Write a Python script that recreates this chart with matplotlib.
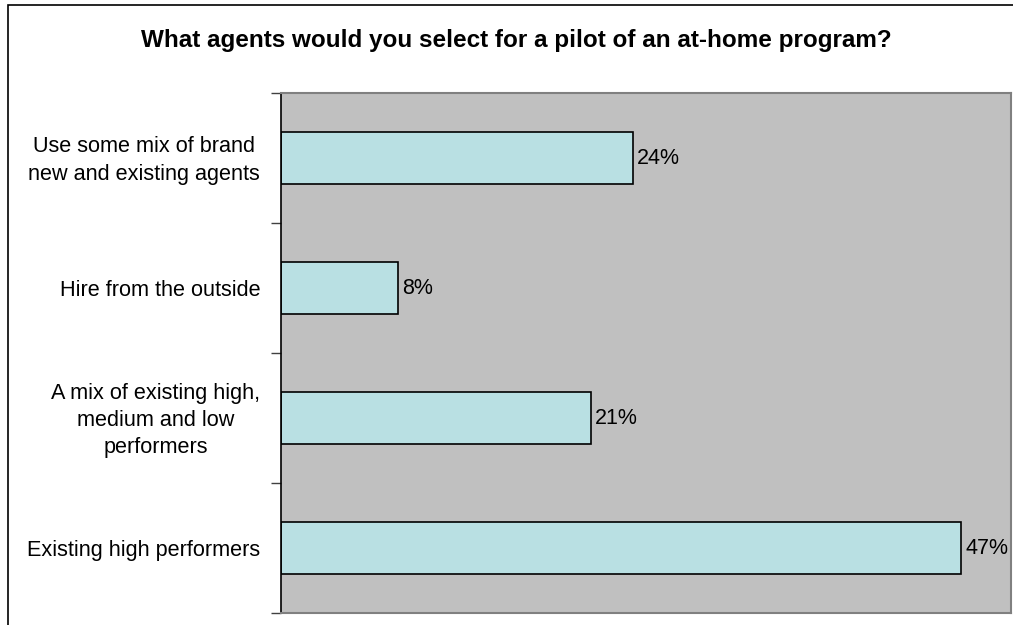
import matplotlib
matplotlib.use("Agg")
import matplotlib.pyplot as plt
from matplotlib.patches import Rectangle
from matplotlib.transforms import ScaledTranslation

plt.rcParams['font.family'] = ['Liberation Sans', 'DejaVu Sans']

title = "What agents would you select for a pilot of an at-home program?"
categories = ["Existing high performers",
              "A mix of existing high,\nmedium and low\nperformers",
              "Hire from the outside",
              "Use some mix of brand\nnew and existing agents"]
values = [0.466, 0.212, 0.080, 0.241]
value_labels = ["47%", "21%", "8%", "24%"]

W, H = 1013, 625
fig = plt.figure(figsize=(W / 100, H / 100), dpi=100)
fig.patch.set_facecolor('white')

# figure frame
fig.add_artist(Rectangle((8 / W, -0.05), (W + 20) / W, 1 - 5 / H + 0.05,
                         transform=fig.transFigure, fill=False,
                         edgecolor='black', linewidth=1.2))

left, right, top, bottom = 281, 1011, 93, 613
ax = fig.add_axes([left / W, 1 - bottom / H, (right - left) / W, (bottom - top) / H])
ax.set_facecolor('#C0C0C0')

y = list(range(len(categories)))
ax.barh(y, values, height=0.4, color='#B9E0E3', edgecolor='black', linewidth=1.2)
for yi, v, lab in zip(y, values, value_labels):
    ax.annotate(lab, (v, yi), xytext=(3, 0), textcoords='offset points',
                va='center', ha='left', fontsize=15.5, color='black')

ax.set_xlim(0, 0.5)
ax.set_ylim(-0.5, len(categories) - 0.5)
ax.set_xticks([])
ax.set_yticks([i - 0.5 for i in range(len(categories) + 1)])
ax.set_yticklabels([])
ax.set_yticks(y, minor=True)
ax.set_yticklabels(categories, minor=True, fontsize=15.6, ha='right',
                   multialignment='center', linespacing=1.38)
ax.tick_params(axis='y', which='major', length=7, width=1, color='#404040', direction='out')
ax.tick_params(axis='y', which='minor', length=0, pad=15)
for lab in ax.get_yticklabels(minor=True):
    n = lab.get_text().count("\n")
    dy = 3 if n > 0 else 0
    lab.set_transform(lab.get_transform() + ScaledTranslation(0, dy / 100, fig.dpi_scale_trans))

for side in ['top', 'right', 'bottom']:
    ax.spines[side].set_color('#808080')
    ax.spines[side].set_linewidth(1.5)
ax.spines['left'].set_color('black')
ax.spines['left'].set_linewidth(1.2)

fig.text((W / 2 + 10) / W, 1 - 40 / H, title, ha='center', va='center',
         fontsize=17.5, fontweight='bold')

fig.savefig('out.png', dpi=100)
